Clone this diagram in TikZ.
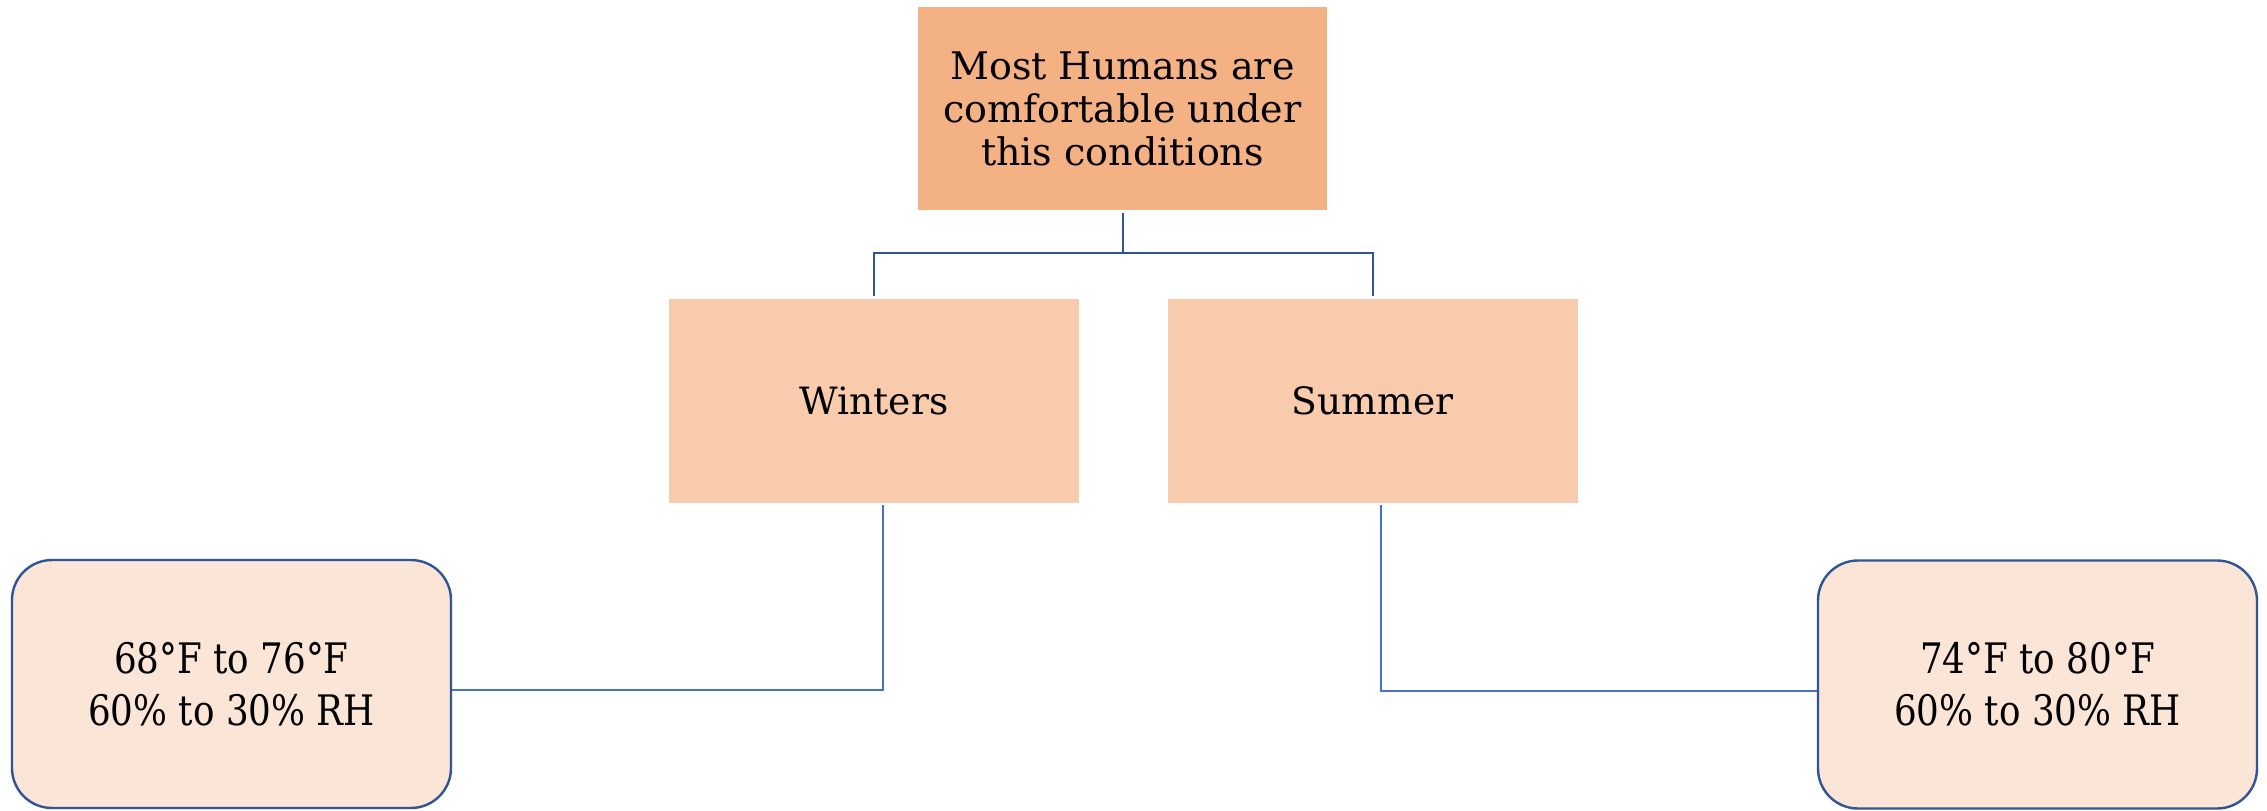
\documentclass[tikz,border=0pt]{standalone}
\usepackage{fontspec}
\setmainfont{DejaVu Serif}
\newfontfamily\condfont{DejaVu Serif}[FakeStretch=0.85]
\definecolor{topfill}{HTML}{F4B183}
\definecolor{midfill}{HTML}{F8CBAD}
\definecolor{lowfill}{HTML}{FBE5D6}
\definecolor{darkblue}{HTML}{2F5597}
\definecolor{lightblue}{HTML}{4472C4}
\tikzset{
  topbox/.style={rectangle, fill=topfill, minimum width=204.5pt, minimum height=101.5pt, align=center, inner sep=0pt, font=\fontsize{19}{21.5}\selectfont},
  midbox/.style={rectangle, fill=midfill, minimum width=205pt, minimum height=102pt, align=center, inner sep=0pt, font=\fontsize{18.8}{21.5}\selectfont},
  lowbox/.style={rectangle, rounded corners=20pt, fill=lowfill, draw=darkblue, line width=1.2pt, minimum width=219.5pt, minimum height=124pt, align=center, inner sep=0pt, font=\condfont\fontsize{21}{26}\selectfont},
  conntop/.style={draw=darkblue, line width=1pt},
  connlow/.style={draw=lightblue, line width=0.8pt},
}
\begin{document}
\begin{tikzpicture}[x=0.5pt,y=-0.5pt]
\useasboundingbox (0,0) rectangle (2267,810);
\node[topbox] (top) at (1122.5,108.5) {Most Humans are\\comfortable under\\this conditions};
\node[midbox] (win) at (874,401) {Winters};
\node[midbox] (sum) at (1372.5,401) {Summer};
\node[lowbox] (bl) at (231.5,684) {68°F to 76°F\\60\% to 30\% RH};
\node[lowbox] (br) at (2037.5,684.5) {74°F to 80°F\\60\% to 30\% RH};
\coordinate (j) at (1122.5,253);
\draw[conntop] ([yshift=-1.5pt]top.south) -- (j);
\draw[conntop] (j) -| ([yshift=1.5pt]win.north);
\draw[conntop] (j) -| ([yshift=1.5pt]sum.north);
\draw[connlow] ([xshift=4.5pt,yshift=-1pt]win.south) |- ([yshift=-3pt]bl.east);
\draw[connlow] ([xshift=4.25pt,yshift=-1pt]sum.south) |- ([yshift=-3.25pt]br.west);
\end{tikzpicture}
\end{document}
